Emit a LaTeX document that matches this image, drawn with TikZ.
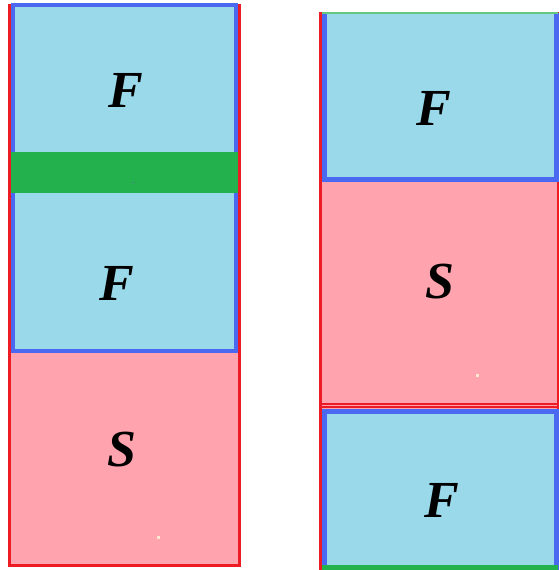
\documentclass[tikz,border=0pt]{standalone}
\usepackage{fontspec}
\setmainfont{Liberation Serif}

\definecolor{cellblue}{RGB}{153,217,234}
\definecolor{cellpink}{RGB}{255,163,175}
\definecolor{edgeblue}{RGB}{75,105,240}
\definecolor{edgered}{RGB}{237,28,36}
\definecolor{bandgreen}{RGB}{34,177,76}
\definecolor{thingreen}{RGB}{100,200,130}
\definecolor{speckpale}{RGB}{255,232,205}
\definecolor{speckdark}{RGB}{60,140,120}

\begin{document}
\begin{tikzpicture}[x=1pt,y=-1pt,
  letter/.style={inner sep=0pt, font=\fontsize{52}{52}\selectfont\bfseries\itshape},
  fcell/.style={draw=edgeblue, fill=cellblue},
  scell/.style={draw=edgered, fill=cellpink}]
\useasboundingbox (0,0) rectangle (558,570);
\fill[white] (0,0) rectangle (558,570);

% ---- left column: F / band / F / S ----
\draw[scell, line width=3pt] (9.8,5) rectangle (239.5,565.5);
\draw[fcell, line width=4pt] (13,5) rectangle (236,172);
\draw[fcell, line width=4pt] (13,172) rectangle (236,350.5);
\fill[bandgreen] (11,152) rectangle (238,193);
\fill[speckdark] (132,181.5) rectangle (134.5,183);
\fill[speckpale] (156.5,536) rectangle (160,538.5);

% ---- right column: F / S / F (open at the top, capped by a thin green rule) ----
\fill[cellpink] (320.5,13) rectangle (558.5,569);
\draw[edgered, line width=3pt] (320.5,12) -- (320.5,570);
\draw[edgered, line width=2pt] (558,12) -- (558,570);
\fill[cellblue] (324.5,13) rectangle (556.5,179.5);
\draw[edgeblue, line width=5pt] (324.5,13) -- (324.5,179.5) -- (556.5,179.5) -- (556.5,13);
\draw[fcell, line width=5pt] (324.5,411) rectangle (556.5,567);
\draw[edgered, line width=1.5pt] (322,404) -- (558,404);
\draw[edgered, line width=1.5pt] (322,407) -- (558,407);
\draw[thingreen, line width=2pt] (322,13) -- (558,13);
\fill[bandgreen] (322,565) rectangle (558,570);
\fill[speckpale] (475.5,374) rectangle (479,376.5);

% ---- labels ----
\node[letter] (f1) at (126,90) {F};
\node[letter] (f2) at (117,283) {F};
\node[letter] (s1) at (122,450) {S};
\node[letter] (f3) at (434,108) {F};
\node[letter] (s2) at (440,282) {S};
\node[letter] (f4) at (442,500) {F};
\end{tikzpicture}
\end{document}
